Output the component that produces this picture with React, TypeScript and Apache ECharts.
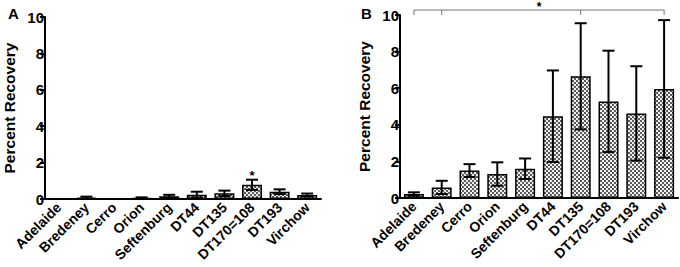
import React, { useEffect, useRef } from "react";
import * as echarts from "echarts";

const categories = ["Adelaide", "Bredeney", "Cerro", "Orion", "Seftenburg", "DT44", "DT135", "DT170=108", "DT193", "Virchow"];
const meanA = [0, 0.07, 0, 0.05, 0.15, 0.24, 0.31, 0.78, 0.4, 0.22];
const errA = [0, 0.06, 0, 0.04, 0.08, 0.16, 0.15, 0.28, 0.13, 0.08];
const meanB = [0.22, 0.58, 1.5, 1.31, 1.6, 4.47, 6.65, 5.28, 4.62, 5.96];
const errB = [0.09, 0.36, 0.35, 0.64, 0.56, 2.5, 2.9, 2.77, 2.58, 3.76];
const yMin = 0;
const yMax = 10;
const yInterval = 2;
const starIndexA = 7;
const bracketTicksB = [0, 1, 6, 9];
const bracketLevelB = 10.27;
const bracketTickEndB = 10.0;

const FONT = '"Liberation Sans", Arial, Helvetica, sans-serif';

function makePattern() {
  const c = document.createElement("canvas");
  c.width = 4;
  c.height = 4;
  const ctx = c.getContext("2d")!;
  ctx.fillStyle = "#efefef";
  ctx.fillRect(0, 0, 4, 4);
  ctx.fillStyle = "#5c5c5c";
  ctx.fillRect(0, 0, 2, 2);
  ctx.fillRect(2, 2, 2, 2);
  return { image: c, repeat: "repeat", imageWidth: 4, imageHeight: 4 } as any;
}

function errorSeries(means: number[], errs: number[], idx: number) {
  return {
    type: "custom",
    xAxisIndex: idx,
    yAxisIndex: idx,
    z: 5,
    clip: false,
    data: means.map((m, i) => [i, m, errs[i]]),
    encode: { x: 0, y: 1 },
    renderItem: (params: any, api: any) => {
      const x = api.value(0);
      const m = api.value(1);
      const e = api.value(2);
      if (!e) return null;
      const top = api.coord([x, m + e]);
      const bot = api.coord([x, Math.max(0, m - e)]);
      const hw = 6;
      const st = { stroke: "#000", lineWidth: 2 };
      return {
        type: "group",
        children: [
          { type: "line", shape: { x1: top[0], y1: top[1], x2: bot[0], y2: bot[1] }, style: st },
          { type: "line", shape: { x1: top[0] - hw, y1: top[1], x2: top[0] + hw, y2: top[1] }, style: st },
          { type: "line", shape: { x1: bot[0] - hw, y1: bot[1], x2: bot[0] + hw, y2: bot[1] }, style: st },
        ],
      };
    },
  };
}

export default function App() {
  const ref = useRef<HTMLDivElement>(null);
  useEffect(() => {
    document.body.style.margin = "0";
    const chart = echarts.init(ref.current!, null, { renderer: "svg" });
    const pattern = makePattern();
    const grids = [
      { left: 43, top: 17, width: 278, height: 182 },
      { left: 400, top: 15, width: 278, height: 183 },
    ];
    const xAxes = grids.map((_, i) => ({
      type: "category",
      gridIndex: i,
      data: categories,
      axisLine: { lineStyle: { color: "#000", width: 2 } },
      axisTick: { alignWithLabel: true, length: 5, lineStyle: { color: "#000", width: 2 } },
      axisLabel: { interval: 0, rotate: 45, margin: 6, color: "#000", fontWeight: "bold", fontSize: 14, fontFamily: FONT },
    }));
    const yAxes = grids.map((_, i) => ({
      type: "value",
      gridIndex: i,
      min: yMin,
      max: yMax,
      interval: yInterval,
      name: "Percent Recovery",
      nameLocation: "middle",
      nameGap: 28,
      nameTextStyle: { color: "#000", fontWeight: "bold", fontSize: 15.5, fontFamily: FONT },
      axisLine: { show: true, lineStyle: { color: "#000", width: 2 } },
      axisTick: { show: true, length: 5, lineStyle: { color: "#000", width: 2 } },
      axisLabel: { margin: 1, color: "#000", fontWeight: "bold", fontSize: 15, fontFamily: FONT },
      splitLine: { show: false },
    }));
    const barStyle = { color: pattern, borderColor: "#000", borderWidth: 1.5 };
    chart.setOption({
      animation: false,
      textStyle: { fontFamily: FONT },
      title: [
        { text: "A", left: 3, top: 1, textStyle: { fontSize: 15, fontWeight: "bold", color: "#000", fontFamily: FONT } },
        { text: "B", left: 356, top: 1, textStyle: { fontSize: 15, fontWeight: "bold", color: "#000", fontFamily: FONT } },
      ],
      grid: grids,
      xAxis: xAxes,
      yAxis: yAxes,
      series: [
        { type: "bar", xAxisIndex: 0, yAxisIndex: 0, data: meanA, barWidth: 20, itemStyle: barStyle },
        { type: "bar", xAxisIndex: 1, yAxisIndex: 1, data: meanB, barWidth: 20, itemStyle: barStyle },
        errorSeries(meanA, errA, 0),
        errorSeries(meanB, errB, 1),
        {
          type: "custom",
          xAxisIndex: 0,
          yAxisIndex: 0,
          z: 6,
          clip: false,
          data: [[starIndexA, meanA[starIndexA] + errA[starIndexA]]],
          encode: { x: 0, y: 1 },
          renderItem: (params: any, api: any) => {
            const p = api.coord([api.value(0), api.value(1)]);
            return {
              type: "text",
              x: p[0],
              y: p[1] - 11,
              style: { text: "*", fill: "#000", font: `bold 13px ${FONT}`, align: "center", verticalAlign: "top" },
            };
          },
        },
        {
          type: "custom",
          xAxisIndex: 1,
          yAxisIndex: 1,
          z: 6,
          clip: false,
          data: [[0, bracketLevelB]],
          encode: { x: 0, y: 1 },
          renderItem: (params: any, api: any) => {
            const first = bracketTicksB[0];
            const last = bracketTicksB[bracketTicksB.length - 1];
            const a = api.coord([first, bracketLevelB]);
            const b = api.coord([last, bracketLevelB]);
            const st = { stroke: "#777", lineWidth: 1 };
            const children: any[] = [
              { type: "line", shape: { x1: a[0], y1: a[1], x2: b[0], y2: b[1] }, style: st },
            ];
            bracketTicksB.forEach((t) => {
              const p1 = api.coord([t, bracketLevelB]);
              const p2 = api.coord([t, bracketTickEndB]);
              children.push({ type: "line", shape: { x1: p1[0], y1: p1[1], x2: p2[0], y2: p2[1] }, style: st });
            });
            children.push({
              type: "text",
              x: (a[0] + b[0]) / 2,
              y: 1,
              style: { text: "*", fill: "#000", font: `bold 12px ${FONT}`, align: "center", verticalAlign: "top" },
            });
            return { type: "group", children };
          },
        },
      ],
    });
    return () => chart.dispose();
  }, []);
  return <div ref={ref} style={{ width: 680, height: 267 }} />;
}
